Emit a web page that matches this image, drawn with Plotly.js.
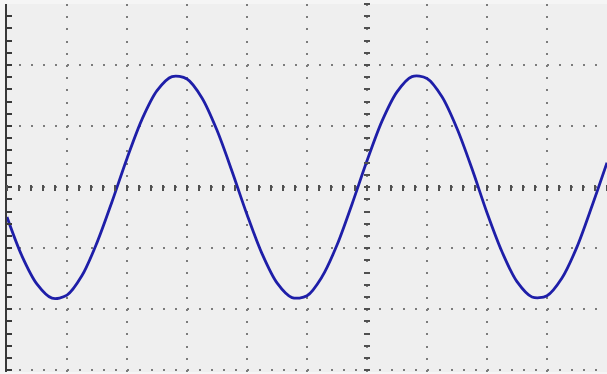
<!DOCTYPE html>
<html>
<head>
<meta charset="utf-8">
<script src="https://cdn.plot.ly/plotly-3.0.1.min.js"></script>
<style>
  html, body { margin: 0; padding: 0; background: #f7f7f7; }
  #chart { width: 607px; height: 374px; }
</style>
</head>
<body>
<div id="chart"></div>
<script>
// Time in screen divisions (left edge = 0)
const timeDiv = [0, 0.25, 0.5, 0.75, 1, 1.25, 1.5, 1.75, 2, 2.25, 2.5, 2.75, 3, 3.25, 3.5, 3.75,
  4, 4.25, 4.5, 4.75, 5, 5.25, 5.5, 5.75, 6, 6.25, 6.5, 6.75, 7, 7.25, 7.5, 7.75,
  8, 8.25, 8.5, 8.75, 9, 9.25, 9.5, 9.75, 10];
// Signal in vertical divisions
const signalDiv = [-0.49, -1.13, -1.59, -1.82, -1.77, -1.45, -0.91, -0.24, 0.47, 1.11, 1.58, 1.81, 1.77, 1.46, 0.93, 0.26,
  -0.45, -1.09, -1.57, -1.81, -1.78, -1.47, -0.95, -0.28, 0.43, 1.08, 1.56, 1.81, 1.78, 1.48, 0.96, 0.30,
  -0.42, -1.06, -1.55, -1.80, -1.78, -1.49, -0.98, -0.31, 0.40];

const xRange = [0, 10];
const yRange = [-3.03, 3];

const gridCol = '#7c7c7c';
const markCol = '#505050';

const traces = [
  { x: timeDiv, y: signalDiv, type: 'scatter', mode: 'lines',
    line: { color: '#1e1ea8', width: 2.8, shape: 'spline', smoothing: 0.9 },
    hoverinfo: 'skip', showlegend: false },
  { x: [], y: [], xaxis: 'x2', yaxis: 'y', type: 'scatter', showlegend: false },
  { x: [], y: [], xaxis: 'x', yaxis: 'y2', type: 'scatter', showlegend: false }
];

const layout = {
  width: 607, height: 374,
  margin: { l: 7, r: 0, t: 4, b: 2 },
  paper_bgcolor: '#f5f5f5',
  plot_bgcolor: '#efefef',
  showlegend: false,
  xaxis: {
    range: xRange, tickmode: 'linear', tick0: 0, dtick: 1,
    showgrid: true, gridcolor: gridCol, gridwidth: 2, griddash: '2px,10.2px',
    zeroline: false, showline: false, ticks: '', showticklabels: false, fixedrange: true
  },
  yaxis: {
    range: yRange, tickmode: 'linear', tick0: 0, dtick: 1,
    showgrid: true, gridcolor: gridCol, gridwidth: 2, griddash: '2px,10px',
    zeroline: false, showline: true, linecolor: '#3a3a3a', linewidth: 2.5,
    ticks: 'inside', ticklen: 5, tickwidth: 2, tickcolor: '#3a3a3a',
    minor: { dtick: 0.2, ticks: 'inside', ticklen: 5, tickwidth: 2, tickcolor: '#3a3a3a', showgrid: false },
    showticklabels: false, fixedrange: true
  },
  // centre horizontal graticule line: short vertical marks centred on y = 0
  xaxis2: {
    overlaying: 'x', anchor: 'free', position: 0.5 + 3 / 368 + 0.5 * 0.03 / 6.03, side: 'bottom', range: xRange,
    showgrid: false, zeroline: false, showline: false, showticklabels: false,
    tickmode: 'linear', tick0: 0, dtick: 0.2, ticks: 'outside', ticklen: 6, tickwidth: 2, tickcolor: markCol
  },
  // centre vertical graticule line: short horizontal marks centred on x = 6
  yaxis2: {
    overlaying: 'y', anchor: 'free', position: 0.6 + 3 / 600, side: 'left', range: yRange,
    showgrid: false, zeroline: false, showline: false, showticklabels: false,
    tickmode: 'linear', tick0: 0, dtick: 0.2, ticks: 'outside', ticklen: 6, tickwidth: 2, tickcolor: markCol
  }
};

Plotly.newPlot('chart', traces, layout, { staticPlot: true, displayModeBar: false });
</script>
</body>
</html>
